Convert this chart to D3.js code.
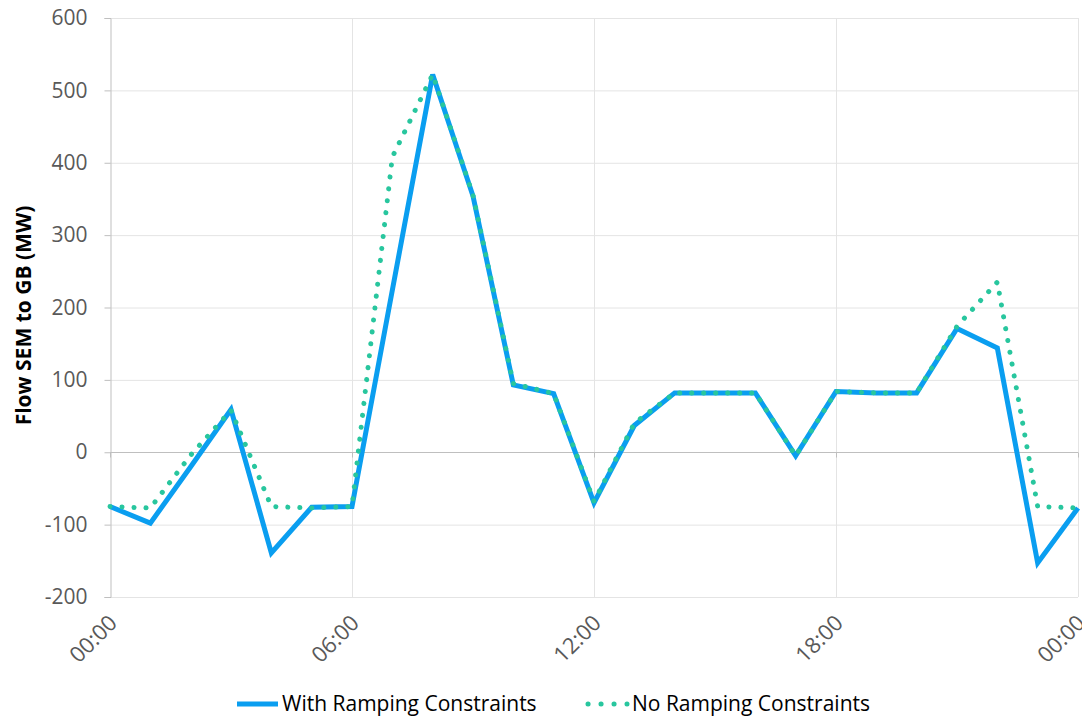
<!DOCTYPE html>
<html>
<head>
<meta charset="utf-8">
<script src="https://cdn.jsdelivr.net/npm/d3@7"></script>
<style>
  html, body { margin: 0; padding: 0; background: #fff; }
  svg { display: block; font-family: "Open Sans", Lato, sans-serif; }
</style>
</head>
<body>
<svg id="chart" width="1082" height="717"></svg>
<script>
// Hourly interconnector flow, SEM -> GB (MW)
const hours = d3.range(0, 25);
const withRamping = [-75, -98, -20, 59, -139, -76, -75, 224, 522, 354, 93, 81, -70, 37, 82, 82, 82, -5, 84, 82, 82, 171, 144, -153, -77];
const noRamping   = [-75, -77, -4, 58, -75, -77, -75, 408, 522, 355, 95, 81, -68, 40, 82, 82, 82, -5, 84, 82, 82, 174, 235, -75, -77];
const yTicks = [-200, -100, 0, 100, 200, 300, 400, 500, 600];
const xTicks = [0, 6, 12, 18, 24];
const xTickLabels = ["00:00", "06:00", "12:00", "18:00", "00:00"];
const seriesNames = ["With Ramping Constraints", "No Ramping Constraints"];

const BLUE = "#0a9ef0";
const TEAL = "#28c69e";
const FONT = "'Open Sans', Lato, sans-serif";

const svg = d3.select("#chart");
const m = { left: 110, right: 1078, top: 18, bottom: 597 };

const x = d3.scaleLinear().domain([0, 24]).range([m.left, m.right]);
const y = d3.scaleLinear().domain([-200, 600]).range([m.bottom, m.top]);

// horizontal gridlines
svg.append("g")
  .selectAll("line").data(yTicks.filter(v => v !== 0)).join("line")
  .attr("x1", m.left).attr("x2", m.right)
  .attr("y1", d => y(d) + 0.5).attr("y2", d => y(d) + 0.5)
  .attr("stroke", "#e4e4e4").attr("stroke-width", 1);

// vertical gridlines every 6 hours
svg.append("g")
  .selectAll("line").data(xTicks.slice(1)).join("line")
  .attr("x1", d => Math.round(x(d)) + 0.5).attr("x2", d => Math.round(x(d)) + 0.5)
  .attr("y1", m.top).attr("y2", m.bottom)
  .attr("stroke", "#e4e4e4").attr("stroke-width", 1);

// y axis
const yAxis = d3.axisLeft(y).tickValues(yTicks).tickSize(6).tickPadding(17)
  .tickFormat(d => String(d));
const gy = svg.append("g").attr("transform", `translate(${m.left + 0.5},0)`).call(yAxis);
gy.select(".domain").attr("stroke", "#bfbfbf");
gy.selectAll(".tick line").attr("stroke", "#bfbfbf");
gy.selectAll(".tick text")
  .attr("fill", "#595959").style("font-size", "21px")
  .style("font-family", FONT);

// zero axis with 6-hour tick marks
const xAxis = d3.axisBottom(x).tickValues(xTicks).tickSize(5).tickFormat("");
const gx = svg.append("g").attr("transform", `translate(0,${Math.round(y(0)) + 0.5})`).call(xAxis);
gx.select(".domain").attr("stroke", "#bfbfbf").attr("d", `M${m.left},0H${m.right}`);
gx.selectAll(".tick line").attr("stroke", "#bfbfbf");

// rotated time labels below the plot
svg.append("g")
  .selectAll("text").data(xTicks).join("text")
  .attr("transform", d => `translate(${x(d) + 3},${m.bottom + 22}) rotate(-45)`)
  .attr("text-anchor", "end")
  .attr("dy", "0.35em")
  .attr("fill", "#595959")
  .style("font-size", "22px")
  .text((d, i) => xTickLabels[i]);

// y axis title
svg.append("text")
  .attr("transform", `translate(31,${(m.top + m.bottom) / 2 + 8}) rotate(-90)`)
  .attr("text-anchor", "middle")
  .style("font-size", "21px").style("font-weight", "bold")
  .attr("fill", "#000")
  .text("Flow SEM to GB (MW)");

const line = d3.line().x((d, i) => x(hours[i])).y(d => y(d));

svg.append("path").datum(withRamping)
  .attr("d", line).attr("fill", "none")
  .attr("stroke", BLUE).attr("stroke-width", 5)
  .attr("stroke-linejoin", "miter");

svg.append("path").datum(noRamping)
  .attr("d", line).attr("fill", "none")
  .attr("stroke", TEAL).attr("stroke-width", 5)
  .attr("stroke-linecap", "round")
  .attr("stroke-dasharray", "0.1 11.9");

// legend
const legY = 704;
const leg = svg.append("g");
leg.append("line").attr("x1", 237).attr("x2", 278).attr("y1", legY).attr("y2", legY)
  .attr("stroke", BLUE).attr("stroke-width", 5);
leg.append("text").attr("x", 282).attr("y", legY).attr("dy", "0.35em")
  .style("font-size", "21px").attr("fill", "#000").text(seriesNames[0]);
leg.append("line").attr("x1", 588).attr("x2", 627).attr("y1", legY).attr("y2", legY)
  .attr("stroke", TEAL).attr("stroke-width", 5)
  .attr("stroke-linecap", "round").attr("stroke-dasharray", "0.1 12.9");
leg.append("text").attr("x", 632).attr("y", legY).attr("dy", "0.35em")
  .style("font-size", "21px").attr("fill", "#000").text(seriesNames[1]);
</script>
</body>
</html>
